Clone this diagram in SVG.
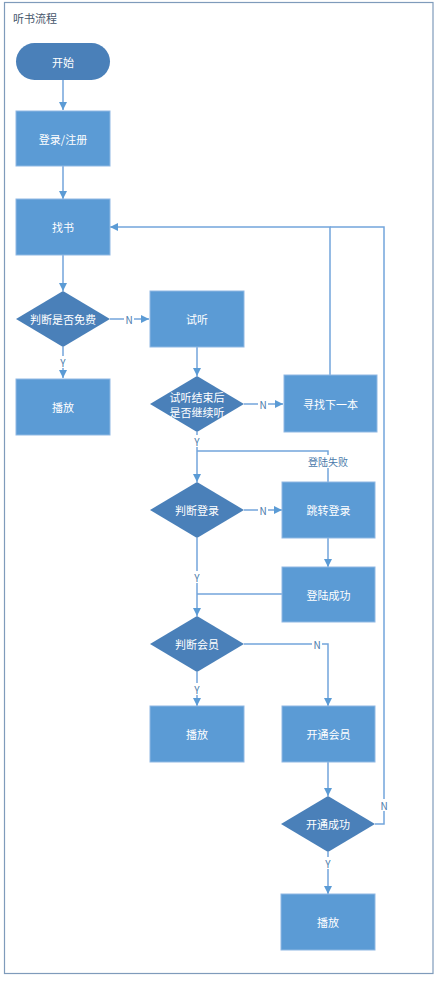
<svg xmlns="http://www.w3.org/2000/svg" width="438" height="982" viewBox="0 0 438 982">
<style>
.box{fill:#5b9bd5;stroke:#8fb8e3;stroke-width:1}
.dia{fill:#4a80b9}
.t{font-family:"Noto Sans CJK SC","Liberation Sans",sans-serif;font-size:11px;fill:#ffffff;text-anchor:middle;dominant-baseline:central}
.lbl{font-family:"Noto Sans CJK SC","Liberation Sans",sans-serif;font-size:10px;fill:#4a7aaa;text-anchor:middle;dominant-baseline:central}
.c{fill:none;stroke:#73a5db;stroke-width:1.5}
</style>
<defs>
<marker id="ah" viewBox="0 0 10 10" refX="10" refY="5" markerWidth="8" markerHeight="8" markerUnits="userSpaceOnUse" orient="auto">
<path d="M0,0 L10,5 L0,10 z" fill="#5b9bd5"/>
</marker>
</defs>
<rect width="438" height="982" fill="#ffffff"/>
<g id="frame">
<rect x="4.5" y="2.5" width="428.5" height="971" fill="none" stroke="#7f9bbb" stroke-width="1.2"/>
<text x="13" y="18" font-family="Noto Sans CJK SC,Liberation Sans,sans-serif" font-size="11" fill="#44546a" dominant-baseline="central">听书流程</text>
</g>
<g id="connectors">
<path class="c" d="M63,80 V110" marker-end="url(#ah)"/>
<path class="c" d="M63,166 V199" marker-end="url(#ah)"/>
<path class="c" d="M63,255 V291" marker-end="url(#ah)"/>
<path class="c" d="M110,319 H149" marker-end="url(#ah)"/>
<path class="c" d="M63,347 V378" marker-end="url(#ah)"/>
<path class="c" d="M197,347 V376" marker-end="url(#ah)"/>
<path class="c" d="M244,404 H283" marker-end="url(#ah)"/>
<path class="c" d="M330,375 V227 H110" marker-end="url(#ah)"/>
<path class="c" d="M197,432 V482" marker-end="url(#ah)"/>
<path class="c" d="M328,482 V451 H197"/>
<path class="c" d="M244,510 H282" marker-end="url(#ah)"/>
<path class="c" d="M328,538 V567" marker-end="url(#ah)"/>
<path class="c" d="M197,538 V616" marker-end="url(#ah)"/>
<path class="c" d="M282,594 H197"/>
<path class="c" d="M244,644 H328 V706" marker-end="url(#ah)"/>
<path class="c" d="M197,672 V706" marker-end="url(#ah)"/>
<path class="c" d="M328,762 V796" marker-end="url(#ah)"/>
<path class="c" d="M375,824 H384 V227 H330"/>
<path class="c" d="M328,852 V894" marker-end="url(#ah)"/>
<rect x="60" y="356" width="7" height="12" fill="#fff"/>
<text class="lbl" x="63" y="362">Y</text>
<rect x="124" y="313" width="10" height="12" fill="#fff"/>
<text class="lbl" x="129" y="319">N</text>
<rect x="194" y="435" width="7" height="12" fill="#fff"/>
<text class="lbl" x="197" y="441">Y</text>
<rect x="258" y="398" width="10" height="12" fill="#fff"/>
<text class="lbl" x="263" y="404">N</text>
<rect x="302" y="455" width="52" height="13" fill="#fff"/>
<text class="lbl" x="328" y="461" font-size="11">登陆失败</text>
<rect x="258" y="504" width="10" height="12" fill="#fff"/>
<text class="lbl" x="263" y="510">N</text>
<rect x="194" y="571" width="7" height="12" fill="#fff"/>
<text class="lbl" x="197" y="577">Y</text>
<rect x="312" y="638" width="10" height="12" fill="#fff"/>
<text class="lbl" x="317" y="644">N</text>
<rect x="194" y="683" width="7" height="12" fill="#fff"/>
<text class="lbl" x="197" y="689">Y</text>
<rect x="379" y="799" width="10" height="12" fill="#fff"/>
<text class="lbl" x="384" y="805">N</text>
<rect x="325" y="857" width="7" height="12" fill="#fff"/>
<text class="lbl" x="328" y="863">Y</text>
</g>
<g id="start"><rect x="16" y="43" width="94" height="37" rx="18.5" class="dia"/><text class="t" x="63" y="61.5">开始</text></g>
<g id="login"><rect x="16" y="111" width="94" height="55" class="box"/><text class="t" x="63" y="138.5">登录/注册</text></g>
<g id="findbook"><rect x="16" y="199" width="94" height="56" class="box"/><text class="t" x="63" y="227">找书</text></g>
<g id="isfree"><path d="M63,291 L110,319 L63,347 L16,319 z" class="dia"/><text class="t" x="63" y="319">判断是否免费</text></g>
<g id="play1"><rect x="16" y="379" width="94" height="56" class="box"/><text class="t" x="63" y="407">播放</text></g>
<g id="trial"><rect x="150" y="291" width="94" height="56" class="box"/><text class="t" x="197" y="319">试听</text></g>
<g id="continue"><path d="M197,376 L244,404 L197,432 L150,404 z" class="dia"/><text class="t" x="197" y="397">试听结束后</text><text class="t" x="197" y="412">是否继续听</text></g>
<g id="next"><rect x="284" y="375" width="93" height="57" class="box"/><text class="t" x="330.5" y="403.5">寻找下一本</text></g>
<g id="checklogin"><path d="M197,482 L244,510 L197,538 L150,510 z" class="dia"/><text class="t" x="197" y="510">判断登录</text></g>
<g id="gologin"><rect x="282" y="482" width="93" height="56" class="box"/><text class="t" x="328.5" y="510">跳转登录</text></g>
<g id="loginok"><rect x="282" y="567" width="93" height="55" class="box"/><text class="t" x="328.5" y="594.5">登陆成功</text></g>
<g id="checkvip"><path d="M197,616 L244,644 L197,672 L150,644 z" class="dia"/><text class="t" x="197" y="644">判断会员</text></g>
<g id="play2"><rect x="150" y="706" width="94" height="56" class="box"/><text class="t" x="197" y="734">播放</text></g>
<g id="openvip"><rect x="282" y="706" width="93" height="56" class="box"/><text class="t" x="328.5" y="734">开通会员</text></g>
<g id="vipok"><path d="M328,796 L375,824 L328,852 L281,824 z" class="dia"/><text class="t" x="328" y="824">开通成功</text></g>
<g id="play3"><rect x="281" y="894" width="94" height="56" class="box"/><text class="t" x="328" y="922">播放</text></g>
</svg>
